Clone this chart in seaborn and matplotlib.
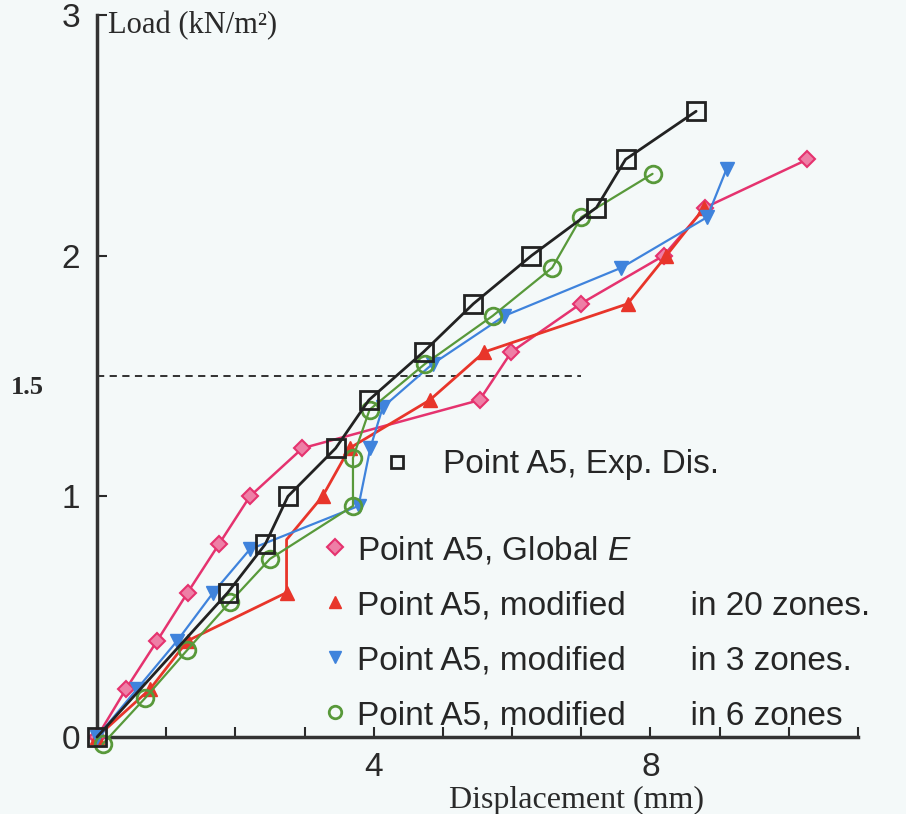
import matplotlib
matplotlib.use("Agg")
import matplotlib.pyplot as plt
from matplotlib.lines import Line2D
import seaborn as sns

# Data
exp_disp = [0, 1.89, 2.43, 2.76, 3.45, 3.93, 4.72, 5.44, 6.28, 7.22, 7.64, 8.66]
exp_load = [0, 0.6, 0.8, 1.0, 1.2, 1.4, 1.6, 1.8, 2.0, 2.2, 2.4, 2.6]

glob_disp = [0, 0.42, 0.87, 1.31, 1.76, 2.21, 2.97, 5.53, 5.99, 6.99, 8.19, 8.79, 10.27]
glob_load = [0, 0.2, 0.4, 0.6, 0.8, 1.0, 1.2, 1.4, 1.6, 1.8, 2.0, 2.2, 2.4]

z20_disp = [0, 0.77, 1.31, 2.74, 2.74, 3.26, 3.65, 4.81, 5.60, 7.67, 8.23, 8.78]
z20_load = [0, 0.2, 0.4, 0.6, 0.82, 1.0, 1.2, 1.4, 1.6, 1.8, 2.0, 2.2]

z3_disp = [0, 0.58, 1.16, 1.68, 2.21, 3.78, 3.95, 4.13, 4.85, 5.89, 7.58, 8.82, 9.10]
z3_load = [0, 0.2, 0.4, 0.6, 0.78, 0.96, 1.2, 1.37, 1.55, 1.75, 1.95, 2.16, 2.36]

z6_disp = [0.08, 0.69, 1.30, 1.92, 2.50, 3.70, 3.70, 3.94, 4.74, 5.72, 6.58, 7.0, 8.03]
z6_load = [-0.03, 0.16, 0.36, 0.56, 0.74, 0.96, 1.16, 1.36, 1.55, 1.75, 1.95, 2.16, 2.34]

ref_load = 1.5
ref_disp_end = 7.0

bg = "#f4f9f9"
pink = "#e5336f"
red = "#e8352a"
blue = "#3f83dc"
green = "#58993a"
black = "#222222"
txt = "#2a2a2a"

sns.set_style("ticks")
plt.rcParams["font.family"] = ["Liberation Sans", "DejaVu Sans"]
plt.rcParams["mathtext.fontset"] = "custom"
plt.rcParams["mathtext.it"] = "Liberation Sans:italic"

fig = plt.figure(figsize=(9.06, 8.14), dpi=100, facecolor=bg)
ax = fig.add_axes([97 / 906, 1 - 737 / 814, 761 / 906, 722 / 814])
ax.set_facecolor(bg)

ax.hlines(ref_load, 0, ref_disp_end, colors=black, linestyles=(0, (4, 3)), linewidth=1.3)

ax.plot(glob_disp, glob_load, color=pink, lw=1.8, marker="D", ms=8,
        mfc="#ee7fa6", mec=pink, mew=1.5, clip_on=False, zorder=3)
# the top of the vertical jump carries no visible marker
z20_marks = [i for i in range(len(z20_disp)) if i != 4]
ax.plot(z20_disp, z20_load, color=red, lw=2, marker="^", ms=10, markevery=z20_marks,
        mfc=red, mec=red, clip_on=False, zorder=3)
ax.plot(z3_disp, z3_load, color=blue, lw=1.6, marker="v", ms=10,
        mfc=blue, mec=blue, clip_on=False, zorder=3)
ax.plot(z6_disp, z6_load, color=green, lw=1.6, marker="o", ms=12,
        mfc="none", mec=green, mew=2, clip_on=False, zorder=4)
ax.plot(exp_disp, exp_load, color=black, lw=2, marker="s", ms=13,
        mfc="none", mec=black, mew=2, clip_on=False, zorder=5)

ax.set_xlim(0, 11)
ax.set_ylim(0, 3)
ax.set_xticks(range(0, 12))
ax.set_xticklabels(["" if t not in (4, 8) else str(t) for t in range(0, 12)])
ax.set_yticks([0, 1, 2, 3])
ax.tick_params(direction="in", length=7, width=1.5, labelsize=24, pad=12, colors=txt)
ax.tick_params(axis="x", pad=11)
for s in ["top", "right"]:
    ax.spines[s].set_visible(False)
for s in ["left", "bottom"]:
    ax.spines[s].set_linewidth(2.5)
    ax.spines[s].set_color("#333333")

ax.text(0.015, 1.005, "Load (kN/m\u00b2)", transform=ax.transAxes, ha="left", va="top",
        family="Liberation Serif", fontsize=22, color=txt)
ax.text(0.63, -0.088, "Displacement (mm)", transform=ax.transAxes, ha="center", va="center",
        family="Liberation Serif", fontsize=23, color=txt)
ax.annotate("1.5", xy=(0, ref_load), xytext=(-70, -12), textcoords="offset pixels",
            ha="center", va="center", family="Liberation Serif", fontweight="bold",
            fontsize=19, color=txt, annotation_clip=False)

h_exp = [Line2D([], [], ls="none", marker="s", ms=9, mfc="none", mec=black, mew=2)]
leg1 = ax.legend(h_exp, ["Point A5, Exp. Dis."], loc="center left",
                 bbox_to_anchor=(0.376, 0.377), frameon=False, fontsize=24,
                 handlelength=0.85, handletextpad=0.95, borderpad=0, borderaxespad=0)
ax.add_artist(leg1)

h_rest = [
    Line2D([], [], ls="none", marker="D", ms=8, mfc="#ee7fa6", mec=pink, mew=1.5),
    Line2D([], [], ls="none", marker="^", ms=9, mfc=red, mec=red),
    Line2D([], [], ls="none", marker="v", ms=9, mfc=blue, mec=blue),
    Line2D([], [], ls="none", marker="o", ms=9, mfc="none", mec=green, mew=2),
]
labels = [
    "Point A5, Global $\\it{E}$",
    "Point A5, modified       in 20 zones.",
    "Point A5, modified       in 3 zones.",
    "Point A5, modified       in 6 zones",
]
ax.legend(h_rest, labels, loc="upper left", bbox_to_anchor=(0.294, 0.281),
          frameon=False, fontsize=24, handlelength=0.85, handletextpad=0.25,
          labelspacing=0.72, borderpad=0, borderaxespad=0)

fig.savefig("out.png", dpi=100, facecolor=bg)
